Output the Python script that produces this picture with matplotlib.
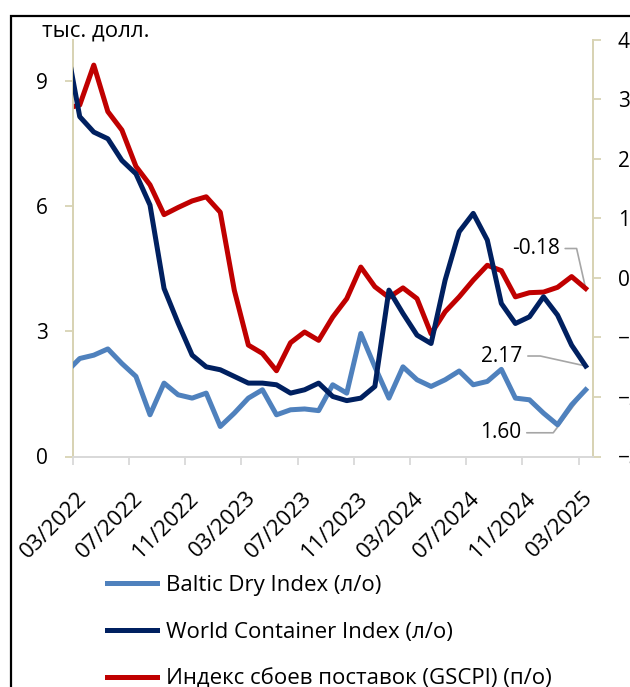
import matplotlib
matplotlib.use("Agg")
import matplotlib.pyplot as plt
import matplotlib.transforms as mtransforms
from matplotlib.patches import Rectangle
import numpy as np

plt.rcParams['font.family'] = ['Open Sans', 'DejaVu Sans']

# monthly observations, 02/2022 .. 03/2025 (first point lies just left of the axis start)
n_months = 38
tick_labels = ['03/2022', '07/2022', '11/2022', '03/2023', '07/2023',
               '11/2023', '03/2024', '07/2024', '11/2024', '03/2025']

bdi = [2.01, 2.35, 2.43, 2.58, 2.23, 1.92, 1.00, 1.76, 1.48, 1.40,
       1.52, 0.72, 1.04, 1.40, 1.60, 1.00, 1.12, 1.14, 1.10, 1.72,
       1.52, 2.95, 2.15, 1.40, 2.15, 1.84, 1.68, 1.84, 2.05, 1.72,
       1.80, 2.09, 1.40, 1.36, 1.04, 0.76, 1.24, 1.60]

wci = [9.98, 8.15, 7.78, 7.62, 7.10, 6.78, 6.03, 4.03, 3.20, 2.43,
       2.15, 2.08, 1.92, 1.76, 1.76, 1.72, 1.52, 1.60, 1.76, 1.44,
       1.34, 1.40, 1.68, 3.99, 3.43, 2.91, 2.71, 4.23, 5.39, 5.83,
       5.19, 3.67, 3.19, 3.35, 3.83, 3.39, 2.67, 2.17]

gscpi = [2.84, 2.90, 3.57, 2.79, 2.48, 1.87, 1.56, 1.06, 1.18, 1.29,
         1.36, 1.10, -0.21, -1.13, -1.27, -1.56, -1.09, -0.91, -1.05, -0.66,
         -0.35, 0.18, -0.15, -0.33, -0.17, -0.35, -0.94, -0.57, -0.32, -0.04,
         0.21, 0.12, -0.32, -0.25, -0.24, -0.16, 0.02, -0.18]

labels = ['Baltic Dry Index (л/о)', 'World Container Index (л/о)',
          'Индекс сбоев поставок (GSCPI) (п/о)']

# month slots: 0 = start of 03/2022; each point sits in the middle of its month
x = np.arange(-1, n_months - 1) + 0.5
tick_pos = np.arange(0, 37, 4)

C_BDI = '#4F81BD'
C_WCI = '#002060'
C_GS = '#C00000'
SPINE_TAN = '#D8D3B4'
SPINE_GRAY = '#D9D9D9'
LEAD = '#A6A6A6'
FS = 15
FS_BIG = 16

W, H = 630, 687
fig = plt.figure(figsize=(W / 100, H / 100), dpi=100)
L, R, T, B = 72.7, 592.7, 39.5, 456.5
ax = fig.add_axes([L / W, 1 - B / H, (R - L) / W, (B - T) / H])
ax2 = ax.twinx()
ax.set_zorder(ax2.get_zorder() + 1)
ax.patch.set_visible(False)

l1, = ax.plot(x, bdi, color=C_BDI, lw=3.6, solid_joinstyle='round', zorder=3)
l2, = ax.plot(x, wci, color=C_WCI, lw=3.6, solid_joinstyle='round', zorder=4)
l3, = ax2.plot(x, gscpi, color=C_GS, lw=3.6, solid_joinstyle='round', zorder=3)

ax.set_xlim(0, 37)
ax.set_ylim(0, 10)
ax2.set_ylim(-3, 4)
ax.set_yticks([0, 3, 6, 9])
ax2.set_yticks(range(-3, 5))
ax.set_xticks(tick_pos)
ax.set_xticklabels([])

# rotated date labels, placed like the original (slightly right of and below each tick)
lab_tr = ax.get_xaxis_transform() + mtransforms.ScaledTranslation(
    0.035, -0.31, fig.dpi_scale_trans)
for pos, txt in zip(tick_pos, tick_labels):
    ax.text(pos, 0, txt, transform=lab_tr, rotation=45, ha='right', va='top',
            rotation_mode='anchor', fontsize=FS_BIG, clip_on=False)

for a in (ax, ax2):
    a.spines['top'].set_visible(False)
    a.spines['left'].set_color(SPINE_TAN)
    a.spines['right'].set_color(SPINE_TAN)
    a.spines['bottom'].set_color(SPINE_GRAY)
    for s in a.spines.values():
        s.set_linewidth(1.3)

ax.tick_params(axis='y', length=6, width=1.3, color=SPINE_TAN, pad=12,
               labelsize=FS)
ax2.tick_params(axis='y', length=6, width=1.3, color=SPINE_TAN, pad=12,
                labelsize=FS)
ax.tick_params(axis='x', length=6, width=1.3, color=SPINE_GRAY, pad=0)

# data labels on the last points
arrow_kw = dict(arrowstyle='-', color=LEAD, lw=1.2, relpos=(1, 0.5),
                shrinkA=2, shrinkB=0)
ax2.annotate(f'{gscpi[-1]:.2f}', xy=(x[-1], gscpi[-1]), xytext=(-50, 40),
             textcoords='offset pixels', ha='center', va='center', fontsize=FS,
             zorder=1,
             arrowprops=dict(arrow_kw, connectionstyle='arc,angleA=0,armA=17,angleB=0,armB=0,rad=0'))
ax.annotate(f'{wci[-1]:.2f}', xy=(x[-1], wci[-1]), xytext=(-84, 10),
            textcoords='offset pixels', ha='center', va='center', fontsize=FS,
            zorder=1,
            arrowprops=dict(arrow_kw, connectionstyle='arc,angleA=0,armA=18,angleB=0,armB=0,rad=0'))
ax.annotate(f'{bdi[-1]:.2f}', xy=(x[-1], bdi[-1]), xytext=(-85, -43),
            textcoords='offset pixels', ha='center', va='center', fontsize=FS,
            zorder=1,
            arrowprops=dict(arrow_kw, connectionstyle='arc,angleA=0,armA=32,angleB=0,armB=0,rad=0'))

fig.text(42 / W, 1 - 31 / H, 'тыс. долл.', fontsize=FS_BIG, ha='left', va='center')

fig.legend([l1, l2, l3], labels, loc='upper left',
           bbox_to_anchor=(107 / W, 1 - 575 / H), frameon=False,
           borderpad=0, borderaxespad=0, handlelength=2.25, handletextpad=0.42,
           labelspacing=1.16, fontsize=FS_BIG)

# chart-area border (cropped on the right and bottom)
fig.add_artist(Rectangle((11 / W, -0.5), 2.0, 0.5 + 1 - 16 / H,
                         transform=fig.transFigure, fill=False,
                         edgecolor='black', lw=1.6))

fig.savefig('out.png', dpi=100)
